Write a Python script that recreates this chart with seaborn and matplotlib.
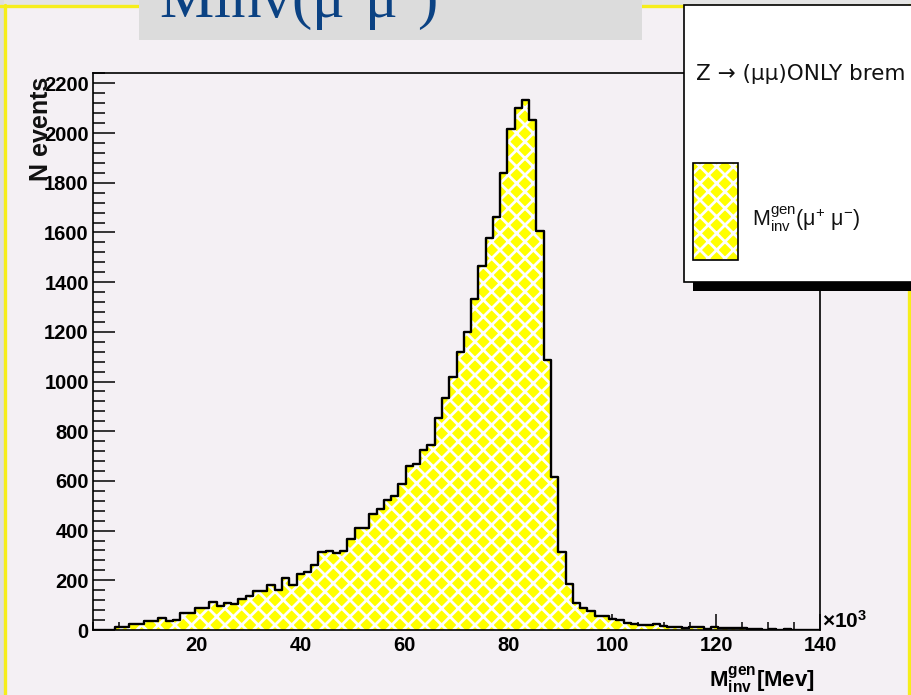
import numpy as np
import pandas as pd
import matplotlib
matplotlib.use("Agg")
import matplotlib.pyplot as plt
import seaborn as sns
from matplotlib.patches import Rectangle
from matplotlib.lines import Line2D
from matplotlib.ticker import MultipleLocator

# Generated di-muon invariant mass, 100 bins of 1.4 (x10^3 MeV) between 0 and 140
mass_min, mass_max, n_bins = 0.0, 140.0, 100
events = [
    0, 0, 0, 11, 11, 25, 25, 36, 36, 49,
    36, 41, 70, 70, 89, 89, 114, 95, 109, 105,
    125, 138, 156, 156, 182, 161, 209, 180, 225, 235,
    263, 314, 318, 311, 318, 368, 410, 410, 468, 489,
    525, 539, 587, 659, 667, 725, 745, 855, 935, 1020,
    1119, 1199, 1333, 1466, 1578, 1664, 1839, 2017, 2102, 2133,
    2052, 1608, 1088, 615, 315, 185, 108, 88, 75, 58,
    58, 44, 40, 28, 24, 20, 20, 24, 17, 13,
    13, 7, 13, 13, 4, 11, 7, 7, 8, 8,
    3, 3, 2, 4, 2, 3, 2, 1, 2, 1,
]
x_ticks = [20, 40, 60, 80, 100, 120, 140]
y_ticks = [0, 200, 400, 600, 800, 1000, 1200, 1400, 1600, 1800, 2000, 2200]

sns.set_theme(style="ticks")
plt.rcParams["font.family"] = ["Liberation Sans", "DejaVu Sans"]
plt.rcParams.update({
    "mathtext.fontset": "custom",
    "mathtext.rm": "Liberation Sans",
    "mathtext.it": "Liberation Sans:italic",
    "mathtext.bf": "Liberation Sans:bold",
    "hatch.color": "white",
    "hatch.linewidth": 2.0,
})

W, H = 911, 695
CANVAS = "#f4f0f4"
FILL = "#ffff00"
fig = plt.figure(figsize=(W / 100, H / 100), dpi=100, facecolor=CANVAS)


def fx(x):
    return x / W


def fy(y):
    return 1 - y / H


def frect(x0, y0, x1, y1, **kw):
    r = Rectangle((fx(x0), fy(y1)), fx(x1) - fx(x0), fy(y0) - fy(y1),
                  transform=fig.transFigure, **kw)
    fig.patches.append(r)
    return r


# slide surroundings
frect(0, 0, W, 5, facecolor="#e4e4e4", edgecolor="none", zorder=0)
frect(0, 0, 4, H, facecolor="#dedede", edgecolor="none", zorder=0)
for xs, ys in [((0, W), (5.5, 5.5)), ((5, 5), (5, H)), ((909, 909), (5, H))]:
    fig.lines.append(Line2D([fx(v) for v in xs], [fy(v) for v in ys],
                            transform=fig.transFigure, color="#f6ee1a",
                            lw=2.4, zorder=5))

# main frame
ax = fig.add_axes([fx(93), fy(630), fx(820) - fx(93), fy(73) - fy(630)])
ax.set_facecolor(CANVAS)

bin_width = (mass_max - mass_min) / n_bins
centers = mass_min + bin_width * (np.arange(n_bins) + 0.5)
df = pd.DataFrame({"mass": centers, "events": events})

sns.histplot(data=df, x="mass", weights="events", bins=n_bins,
             binrange=(mass_min, mass_max),
             element="step", fill=True, color=FILL, alpha=1.0,
             linewidth=0, ax=ax)
for coll in ax.collections:
    coll.set_facecolor(FILL)
    coll.set_edgecolor("white")
    coll.set_linewidth(0)
    coll.set_hatch("xx")

sns.histplot(data=df, x="mass", weights="events", bins=n_bins,
             binrange=(mass_min, mass_max),
             element="step", fill=False, color="black", linewidth=1.7,
             ax=ax)

ax.set_xlim(mass_min, mass_max)
ax.set_ylim(0, 2242)
ax.set_xticks(x_ticks)
ax.set_yticks(y_ticks)
ax.xaxis.set_minor_locator(MultipleLocator(5))
ax.yaxis.set_minor_locator(MultipleLocator(40))
ax.set_xlabel("")
ax.set_ylabel("")
ax.tick_params(which="both", direction="in", top=False, right=False,
               color="black", width=1.1, labelsize=14.5, labelcolor="black")
ax.tick_params(axis="y", which="major", length=15.5, pad=3)
ax.tick_params(axis="y", which="minor", length=8.5)
ax.tick_params(axis="x", which="major", length=11.5, pad=4)
ax.tick_params(axis="x", which="minor", length=5.8)
for lab in ax.get_xticklabels() + ax.get_yticklabels():
    lab.set_fontweight("bold")
for sp in ax.spines.values():
    sp.set_visible(True)
    sp.set_color("black")
    sp.set_linewidth(1.2)

fig.text(fx(41), fy(77), "N events", rotation=90, ha="center", va="top",
         fontsize=18, fontweight="bold", color="#111111")
fig.text(fx(822), fy(628), r"$\mathbf{\times 10^{3}}$", ha="left",
         va="baseline", fontsize=15, color="black")
fig.text(fx(815), fy(687), r"$\mathbf{M_{inv}^{gen}}$[Mev]", ha="right",
         va="baseline", fontsize=16, fontweight="bold", color="black")

# legend panel with shadow
frect(693, 282, W + 10, 291, facecolor="black", edgecolor="none", zorder=6)
frect(684, 5, W + 10, 282, facecolor="white", edgecolor="black", lw=1.2,
      zorder=7)
fig.text(fx(696), fy(74), "Z \u2192 (\u03bc\u03bc)ONLY brem", ha="left",
         va="center", fontsize=15.5, color="#111111", zorder=8,
         family=["DejaVu Sans"])
frect(693, 163, 738, 260, facecolor=FILL, edgecolor="white", lw=0,
      hatch="xx", zorder=8)
frect(693, 163, 738, 260, facecolor="none", edgecolor="black", lw=1.2,
      zorder=9)
fig.text(fx(752), fy(219), r"$\mathregular{M_{inv}^{gen}(\mu^{+}\ \mu^{-})}$",
         ha="left", va="center", fontsize=15.5, color="#111111", zorder=8)

# slide title box (title runs off the top edge)
frect(139, 0, 642, 40, facecolor="#dcdcdc", edgecolor="none", zorder=6)
fig.text(fx(159), fy(17), r"$\mathregular{Minv(\mu^{{}^{+}}\mu^{{}^{-}})}$",
         ha="left", va="baseline", fontsize=44, color="#0b4283", zorder=7,
         family="Liberation Serif")

fig.savefig("out.png", dpi=100, facecolor=CANVAS)
